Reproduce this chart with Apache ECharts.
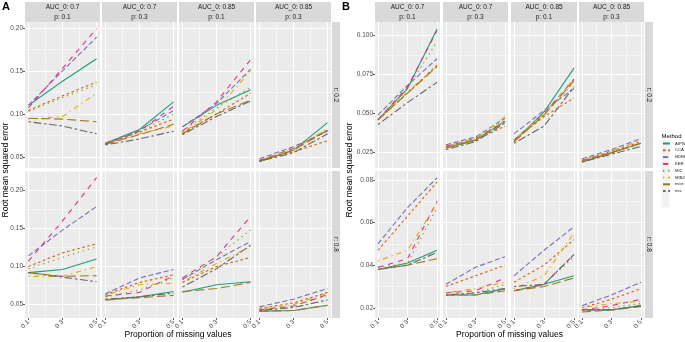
<!DOCTYPE html>
<html>
<head>
<meta charset="utf-8">
<script src="https://cdn.jsdelivr.net/npm/echarts@6/dist/echarts.min.js"></script>
<style>
  html, body { margin: 0; padding: 0; background: #fff; }
  #chart { width: 685px; height: 342px; }
</style>
</head>
<body>
<div id="chart"></div>
<script>
// methods and x values
const methods = ['AIPW', 'CCA', 'HDRL', 'KER', 'MI2', 'MIB2', 'mice', 'mix'];
const propMissing = [0.1, 0.3, 0.5];
const colLabels = [['AUC_0: 0.7', 'p: 0.1'], ['AUC_0: 0.7', 'p: 0.3'], ['AUC_0: 0.85', 'p: 0.1'], ['AUC_0: 0.85', 'p: 0.3']];
const rowLabels = ['r: 0.2', 'r: 0.8'];

// panel A, r = 0.2 (rows in method order)
const a_r02_auc07_p01 = [[0.110, 0.138, 0.164], [0.104, 0.121, 0.137], [0.110, 0.150, 0.189], [0.107, 0.153, 0.199], [0.103, 0.119, 0.134], [0.094, 0.097, 0.124], [0.095, 0.094, 0.091], [0.091, 0.086, 0.077]];
const a_r02_auc07_p03 = [[0.066, 0.082, 0.114], [0.065, 0.079, 0.094], [0.066, 0.081, 0.104], [0.065, 0.080, 0.109], [0.065, 0.079, 0.100], [0.064, 0.077, 0.086], [0.065, 0.076, 0.088], [0.064, 0.071, 0.080]];
const a_r02_auc85_p01 = [[0.085, 0.110, 0.128], [0.078, 0.100, 0.124], [0.085, 0.112, 0.152], [0.080, 0.114, 0.163], [0.080, 0.107, 0.131], [0.078, 0.105, 0.150], [0.077, 0.100, 0.116], [0.076, 0.097, 0.115]];
const a_r02_auc85_p03 = [[0.045, 0.058, 0.090], [0.046, 0.056, 0.069], [0.048, 0.062, 0.080], [0.046, 0.060, 0.081], [0.046, 0.060, 0.082], [0.046, 0.059, 0.083], [0.045, 0.058, 0.081], [0.045, 0.055, 0.077]];
// panel A, r = 0.8
const a_r08_auc07_p01 = [[0.092, 0.096, 0.110], [0.100, 0.118, 0.130], [0.114, 0.148, 0.179], [0.107, 0.160, 0.217], [0.097, 0.112, 0.126], [0.087, 0.087, 0.100], [0.092, 0.087, 0.088], [0.092, 0.086, 0.080]];
const a_r08_auc07_p03 = [[0.056, 0.060, 0.067], [0.063, 0.079, 0.089], [0.064, 0.085, 0.096], [0.061, 0.066, 0.088], [0.060, 0.069, 0.085], [0.062, 0.076, 0.078], [0.056, 0.059, 0.062], [0.057, 0.060, 0.065]];
const a_r08_auc85_p01 = [[0.066, 0.076, 0.080], [0.079, 0.100, 0.112], [0.083, 0.109, 0.133], [0.085, 0.113, 0.166], [0.083, 0.113, 0.148], [0.080, 0.104, 0.126], [0.067, 0.071, 0.079], [0.073, 0.097, 0.128]];
const a_r08_auc85_p03 = [[0.041, 0.042, 0.049], [0.045, 0.052, 0.066], [0.047, 0.057, 0.071], [0.043, 0.048, 0.063], [0.043, 0.048, 0.062], [0.044, 0.050, 0.065], [0.041, 0.042, 0.049], [0.042, 0.046, 0.056]];
// panel B, r = 0.2
const b_r02_auc07_p01 = [[0.046, 0.066, 0.104], [0.046, 0.063, 0.081], [0.049, 0.068, 0.085], [0.046, 0.067, 0.103], [0.046, 0.066, 0.096], [0.046, 0.064, 0.080], [0.046, 0.063, 0.080], [0.043, 0.057, 0.070]];
const b_r02_auc07_p03 = [[0.028, 0.033, 0.045], [0.029, 0.033, 0.042], [0.030, 0.035, 0.047], [0.029, 0.034, 0.045], [0.029, 0.034, 0.046], [0.029, 0.034, 0.048], [0.028, 0.033, 0.045], [0.027, 0.032, 0.044]];
const b_r02_auc85_p01 = [[0.032, 0.051, 0.079], [0.033, 0.048, 0.060], [0.037, 0.052, 0.066], [0.033, 0.050, 0.072], [0.033, 0.049, 0.070], [0.033, 0.050, 0.072], [0.032, 0.049, 0.071], [0.031, 0.042, 0.067]];
const b_r02_auc85_p03 = [[0.019, 0.025, 0.031], [0.020, 0.026, 0.032], [0.021, 0.027, 0.034], [0.020, 0.025, 0.031], [0.020, 0.025, 0.031], [0.020, 0.026, 0.033], [0.019, 0.025, 0.031], [0.019, 0.024, 0.029]];
// panel B, r = 0.8
const b_r08_auc07_p01 = [[0.038, 0.041, 0.047], [0.047, 0.063, 0.079], [0.050, 0.067, 0.081], [0.039, 0.043, 0.070], [0.039, 0.041, 0.067], [0.042, 0.047, 0.069], [0.038, 0.040, 0.043], [0.038, 0.040, 0.046]];
const b_r08_auc07_p03 = [[0.026, 0.026, 0.029], [0.030, 0.035, 0.040], [0.031, 0.039, 0.044], [0.027, 0.028, 0.034], [0.026, 0.027, 0.031], [0.027, 0.029, 0.032], [0.026, 0.026, 0.028], [0.026, 0.027, 0.029]];
const b_r08_auc85_p01 = [[0.028, 0.031, 0.035], [0.032, 0.040, 0.052], [0.035, 0.047, 0.058], [0.028, 0.031, 0.045], [0.028, 0.031, 0.044], [0.029, 0.035, 0.055], [0.028, 0.030, 0.034], [0.030, 0.031, 0.045]];
const b_r08_auc85_p03 = [[0.019, 0.019, 0.021], [0.020, 0.024, 0.029], [0.021, 0.026, 0.032], [0.019, 0.021, 0.024], [0.019, 0.020, 0.022], [0.020, 0.022, 0.023], [0.018, 0.019, 0.0205], [0.019, 0.019, 0.021]];

// y tick labels per panel row
const yTicksA = [0.05, 0.10, 0.15, 0.20];
const yTicksBr02 = [0.025, 0.050, 0.075, 0.100];
const yTicksBr08 = [0.02, 0.04, 0.06, 0.08];

// Dark2 colours + ggplot linetypes
const methodColors = ['#1B9E77', '#D95F02', '#7570B3', '#E7298A', '#66A61E', '#E6AB02', '#A6761D', '#666666'];
const methodDashes = ['solid', [2.6, 2.6], [5.2, 2.6], [5.2, 5.2], [1.3, 3.9], [1.3, 3.9, 5.2, 3.9], [9, 3.9], [2.6, 2.6, 7.8, 2.6]];

const panels = [
  {
    tag: 'A', tagX: 2, yTitleX: 6,
    cols: [[25, 100], [102, 177], [179, 254], [256, 331]], strip: [332, 340],
    rows: [
      { range: [0.0373, 0.2067], ticks: yTicksA, minor: [0.075, 0.125, 0.175], digits: 2,
        data: [a_r02_auc07_p01, a_r02_auc07_p03, a_r02_auc85_p01, a_r02_auc85_p03] },
      { range: [0.0322, 0.2258], ticks: yTicksA, minor: [0.075, 0.125, 0.175, 0.225], digits: 2,
        data: [a_r08_auc07_p01, a_r08_auc07_p03, a_r08_auc85_p01, a_r08_auc85_p03] }
    ]
  },
  {
    tag: 'B', tagX: 342, yTitleX: 350,
    cols: [[375, 440], [443, 508], [511, 577], [579, 644]], strip: [645, 653],
    rows: [
      { range: [0.0152, 0.1085], ticks: yTicksBr02, minor: [0.0375, 0.0625, 0.0875], digits: 3,
        data: [b_r02_auc07_p01, b_r02_auc07_p03, b_r02_auc85_p01, b_r02_auc85_p03] },
      { range: [0.0152, 0.0842], ticks: yTicksBr08, minor: [0.03, 0.05, 0.07], digits: 2,
        data: [b_r08_auc07_p01, b_r08_auc07_p03, b_r08_auc85_p01, b_r08_auc85_p03] }
    ]
  }
];

const rowsY = [[22, 168], [171, 318]];
const stripTop = 2;
const font = 'Liberation Sans, Arial, sans-serif';
const tickColor = '#4D4D4D';

const grids = [], xAxes = [], yAxes = [], series = [], graphics = [];

panels.forEach(function (panel) {
  panel.rows.forEach(function (row, r) {
    const [y0, y1] = rowsY[r];
    panel.cols.forEach(function (col, c) {
      const g = grids.length;
      const bottomRow = r === 1;
      const leftCol = c === 0;
      grids.push({
        left: col[0], top: y0, width: col[1] - col[0], height: y1 - y0,
        show: true, backgroundColor: '#EBEBEB', borderWidth: 0
      });
      // major x axis (labels + major grid)
      xAxes.push({
        type: 'value', gridIndex: g, min: 0.08, max: 0.52,
        axisLine: { show: false },
        axisTick: { show: bottomRow, customValues: propMissing, length: 2, lineStyle: { color: '#333', width: 0.8 } },
        axisLabel: {
          show: bottomRow, customValues: propMissing, rotate: 45, margin: 3,
          fontSize: 6.5, color: tickColor, fontFamily: font,
          formatter: function (v) { return v.toFixed(1); }
        },
        splitLine: { show: true, lineStyle: { color: '#FFFFFF', width: 1 } }
      });
      // minor x grid
      xAxes.push({
        type: 'value', gridIndex: g, min: 0.08, max: 0.52,
        axisLine: { show: false }, axisLabel: { show: false },
        axisTick: { show: false, customValues: [0.2, 0.4] },
        splitLine: { show: true, lineStyle: { color: '#FFFFFF', width: 0.5 } }
      });
      yAxes.push({
        type: 'value', gridIndex: g, min: row.range[0], max: row.range[1],
        axisLine: { show: false },
        axisTick: { show: leftCol, customValues: row.ticks, length: 2, lineStyle: { color: '#333', width: 0.8 } },
        axisLabel: {
          show: leftCol, customValues: row.ticks, margin: 2,
          fontSize: 6.5, color: tickColor, fontFamily: font,
          formatter: function (v) { return v.toFixed(row.digits); }
        },
        splitLine: { show: true, lineStyle: { color: '#FFFFFF', width: 1 } }
      });
      yAxes.push({
        type: 'value', gridIndex: g, min: row.range[0], max: row.range[1],
        axisLine: { show: false }, axisLabel: { show: false },
        axisTick: { show: false, customValues: row.minor },
        splitLine: { show: true, lineStyle: { color: '#FFFFFF', width: 0.5 } }
      });
      const facet = row.data[c];
      methods.forEach(function (m, k) {
        series.push({
          name: m, type: 'line', xAxisIndex: 2 * g, yAxisIndex: 2 * g,
          symbol: 'none', silent: true, animation: false,
          lineStyle: { color: methodColors[k], width: 1.1, type: methodDashes[k] },
          itemStyle: { color: methodColors[k] },
          data: propMissing.map(function (x, i) { return [x, facet[k][i]]; })
        });
      });
      // column strips on top row
      if (r === 0) {
        graphics.push({
          type: 'rect', silent: true,
          shape: { x: col[0], y: stripTop, width: col[1] - col[0], height: y0 - stripTop },
          style: { fill: '#D9D9D9' }
        });
        graphics.push({
          type: 'text', silent: true, x: (col[0] + col[1]) / 2, y: stripTop + 5,
          style: { text: colLabels[c][0], fill: '#1A1A1A', fontSize: 6.5, fontFamily: font, align: 'center', verticalAlign: 'middle' }
        });
        graphics.push({
          type: 'text', silent: true, x: (col[0] + col[1]) / 2, y: stripTop + 15,
          style: { text: colLabels[c][1], fill: '#1A1A1A', fontSize: 6.5, fontFamily: font, align: 'center', verticalAlign: 'middle' }
        });
      }
    });
    // row strip on the right
    graphics.push({
      type: 'rect', silent: true,
      shape: { x: panel.strip[0], y: y0, width: panel.strip[1] - panel.strip[0], height: y1 - y0 },
      style: { fill: '#D9D9D9' }
    });
    graphics.push({
      type: 'text', silent: true, x: (panel.strip[0] + panel.strip[1]) / 2, y: (y0 + y1) / 2,
      rotation: -Math.PI / 2,
      style: { text: rowLabels[r], fill: '#1A1A1A', fontSize: 6.5, fontFamily: font, align: 'center', verticalAlign: 'middle' }
    });
  });

  // panel tag, axis titles
  graphics.push({
    type: 'text', silent: true, x: panel.tagX, y: 1,
    style: { text: panel.tag, fill: '#000', fontSize: 11, fontWeight: 'bold', fontFamily: font }
  });
  graphics.push({
    type: 'text', silent: true, x: panel.yTitleX, y: (rowsY[0][0] + rowsY[1][1]) / 2,
    rotation: Math.PI / 2,
    style: { text: 'Root mean squared error', fill: '#000', fontSize: 8.5, fontFamily: font, align: 'center', verticalAlign: 'middle' }
  });
  graphics.push({
    type: 'text', silent: true, x: (panel.cols[0][0] + panel.cols[3][1]) / 2, y: 335,
    style: { text: 'Proportion of missing values', fill: '#000', fontSize: 8.5, fontFamily: font, align: 'center', verticalAlign: 'middle' }
  });
});

// legend title + key backgrounds
graphics.push({
  type: 'text', silent: true, x: 661.5, y: 136,
  style: { text: 'Method', fill: '#000', fontSize: 6, fontFamily: font, verticalAlign: 'middle' }
});
methods.forEach(function (m, k) {
  graphics.push({
    type: 'rect', silent: true, z: -1,
    shape: { x: 661.5, y: 140.3 + k * 8.4, width: 8, height: 8.2 },
    style: { fill: '#F2F2F2' }
  });
});

const chart = echarts.init(document.getElementById('chart'), null, { renderer: 'canvas' });
chart.setOption({
  animation: false,
  backgroundColor: '#FFFFFF',
  grid: grids,
  xAxis: xAxes,
  yAxis: yAxes,
  series: series,
  graphic: graphics,
  legend: {
    data: methods, orient: 'vertical', left: 662, top: 140.3,
    itemWidth: 7, itemHeight: 8, itemGap: 0.4, padding: 0,
    selectedMode: false,
    itemStyle: { opacity: 0 },
    textStyle: { fontSize: 4.2, color: '#1A1A1A', fontFamily: font }
  }
});
</script>
</body>
</html>
